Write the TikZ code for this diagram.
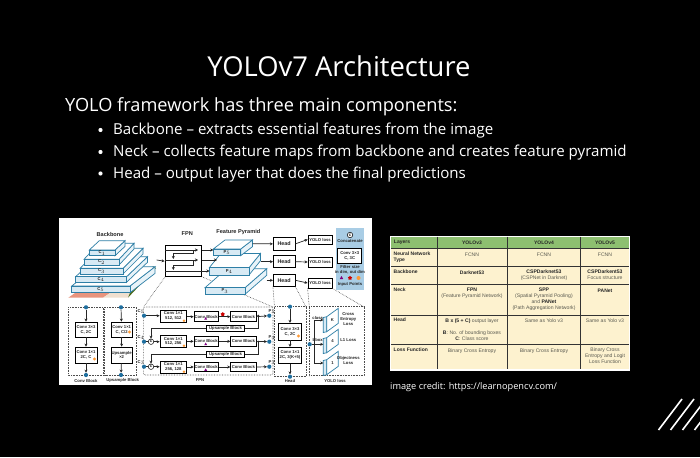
\documentclass[tikz,border=0pt]{standalone}
\usepackage{fontspec}
\setmainfont{Open Sans}
\newfontfamily\lib{Liberation Sans}
\usetikzlibrary{arrows.meta,shapes.geometric,calc}
\definecolor{tealb}{HTML}{2E7FA6}
\definecolor{dotb}{HTML}{1F6F9F}
\definecolor{slabf}{HTML}{D8EAF4}
\definecolor{slabs}{HTML}{E8F3F9}
\definecolor{leg}{HTML}{A9CDE5}
\definecolor{hdr}{HTML}{8DBF70}
\definecolor{crm}{HTML}{FDF2CF}
\definecolor{gtx}{HTML}{5A5A50}
\tikzset{
 tiny/.style={font=\lib\bfseries\fontsize{4.2}{4.8}\selectfont,align=center,inner sep=0pt,text=black!85},
 ttl/.style={font=\lib\bfseries\fontsize{5.6}{6.5}\selectfont,align=center,inner sep=0pt,text=black!85},
 blk/.style={draw=black,line width=.8pt,fill=white,tiny,inner sep=0pt},
 pan/.style={draw=black!70,densely dotted,line width=.6pt},
 arr/.style={-{Stealth[length=3pt,width=3pt]},line width=.7pt,black!85},
 lin/.style={line width=.7pt,black!85},
 dot/.style={circle,fill=dotb,minimum size=4.2pt,inner sep=0pt},
 cc/.style={circle,draw=black,fill=white,line width=.5pt,minimum size=5.5pt,inner sep=0pt,font=\lib\bfseries\fontsize{3.4}{4}\selectfont},
 main/.style={anchor=base west,inner sep=0pt,text=white},
 tb/.style={font=\lib\fontsize{5.1}{6}\selectfont,align=center,inner sep=0pt,text=gtx},
 tbb/.style={font=\lib\bfseries\fontsize{5}{6}\selectfont,align=left,inner sep=0pt,text=black!85},
 tri/.style={regular polygon,regular polygon sides=3,inner sep=0pt,minimum size=4pt},
}
% name x1 y1 x2 y2 text
\newcommand\bx[6]{\pgfmathsetmacro\ww{#4-#2}\pgfmathsetmacro\hh{#5-#3}%
 \node[blk,minimum width=\ww pt,minimum height=\hh pt] (#1) at ({(#2+#4)/2},{(#3+#5)/2}) {#6};}
% name x1 y1 x2 y2 dx dy text
\newcommand\slab[8]{%
 \fill[slabs,draw=tealb,line width=.7pt] (#4,#3)--(#4+#6,#3-#7)--(#4+#6,#5-#7)--(#4,#5)--cycle;
 \fill[white,draw=tealb,line width=.7pt] (#2,#3)--(#2+#6,#3-#7)--(#4+#6,#3-#7)--(#4,#3)--cycle;
 \pgfmathsetmacro\ww{#4-#2}\pgfmathsetmacro\hh{#5-#3}%
 \node[draw=tealb,line width=.7pt,fill=slabf,tiny,minimum width=\ww pt,minimum height=\hh pt] (#1) at ({(#2+#4)/2},{(#3+#5)/2}) {#8};}
% skewed thin box: name yoffset text
\newcommand\skw[3]{%
 \fill[slabf,draw=tealb,line width=.7pt] (323.3,317.5+#2)--(326.7,316.7+#2)--(326.7,331.7+#2)--(323.3,332.5+#2)--cycle;
 \fill[white,draw=tealb,line width=.7pt] (326.7,316.7+#2)--(338.3,308.3+#2)--(338.3,323.3+#2)--(326.7,331.7+#2)--cycle;
 \node[tiny] (#1) at (332.5,320.3+#2) {#3};
 \coordinate (#1w) at (323.3,320+#2);}
\begin{document}
\begin{tikzpicture}[x=1pt,y=-1pt]
\useasboundingbox (0,0) rectangle (700,457);
\fill[black] (0,0) rectangle (700,457);
\node[inner sep=0pt,text=white,font=\fontsize{27.4}{32}\selectfont] (title) at (339,66.5) {YOLOv7 Architecture};
\node[main,font=\fontsize{18.2}{22}\selectfont] (intro) at (65,111.5) {YOLO framework has three main components:};
\foreach \yy/\nm/\tx in {135/ba/Backbone – extracts essential features from the image,157/ne/Neck – collects feature maps from backbone and creates feature pyramid,178.5/he/Head – output layer that does the final predictions}{
 \fill[white] (100.5,\yy-5) circle (2.1pt);
 \node[main,font=\fontsize{15.1}{18}\selectfont] (\nm) at (113,\yy) {\tx};
}
% ---------- left figure
\fill[white] (59,218) rectangle (372,385);
\node[ttl] (tBack) at (110,234) {Backbone};
\node[ttl] (tFpn) at (187.3,234) {FPN};
\node[ttl] (tFP) at (238.3,232.5) {Feature Pyramid};
% ground image
\fill[red!40!brown!60!white] (68.3,297.7) -- (103,297.7) -- (110,293) -- (75,293) -- cycle;
\fill[brown!25!white] (103,297.7) -- (128,297.7) -- (131,293) -- (110,293) -- cycle;
\fill[green!35!black!60!brown] (128,297.7) -- (156,268) -- (153,266) -- (130,293) -- cycle;
% pyramid
\slab{c5}{71.7}{286}{130}{292.7}{25}{19.3}{C$_5$}
\slab{c4}{75.7}{276.7}{126.5}{282.3}{21}{20}{C$_4$}
\slab{c3}{80}{268.3}{123}{274}{20}{20}{C$_3$}
\slab{c2}{84}{259.3}{119}{265}{15}{16}{C$_2$}
\slab{c1}{89.3}{250}{115}{255.7}{10}{9.3}{C$_1$}
% dashed guides behind the pyramid
\coordinate (d1) at (143.5,307);
\coordinate (d2) at (273,307);
\coordinate (d3) at (306,307);
\coordinate (d4) at (309.3,307);
\coordinate (d5) at (364,307);
\draw[pan] (165,277)--(d1);
\draw[pan] (201.7,276.7)--(d2);
% FPN box
\node[draw=black,line width=.8pt,minimum width=36.7pt,minimum height=31pt,inner sep=0pt] (fpn) at (183.3,261.2) {};
\coordinate (fa) at (165,250); \coordinate (fb) at (198,250);
\coordinate (fc) at (165,260); \coordinate (fd) at (198,260);
\coordinate (fe) at (165,271); \coordinate (ff) at (201.7,271);
\draw[arr] (fa)--(fb); \draw[arr] (fc)--(fd); \draw[lin] (fe)--(ff);
\coordinate (g1) at (193.3,250); \coordinate (g2) at (173.3,259);
\coordinate (g3) at (193.3,260); \coordinate (g4) at (173.3,270);
\draw[arr] (g1)--(193.3,253.3)--(173.3,253.3)--(g2);
\draw[arr] (g3)--(193.3,265)--(173.3,265)--(g4);
\coordinate (pe) at (156.7,260);
\draw[arr] (pe)--(fpn.west);
% feature pyramid
\slab{p5}{205}{287.7}{245}{294.3}{21.7}{19}{P$_3$}
\coordinate (t3) at (209.5,271);
\slab{p4}{209.3}{267.7}{249}{275}{11.5}{14.3}{P$_4$}
\coordinate (t2) at (217,260);
\slab{p3}{213.3}{249}{240.7}{255.7}{11.7}{9}{P$_5$}
\coordinate (t1) at (213.3,250);
\draw[arr] (201.7,250)--(t1);
\draw[arr] (201.7,260)--(t2);
\draw[arr] (ff)--(t3);
% heads
\bx{h1}{273.3}{237.7}{295}{250}{\fontsize{5.4}{6}\selectfont Head}
\bx{h2}{273.3}{255.7}{295}{267.7}{\fontsize{5.4}{6}\selectfont Head}
\bx{h3}{273.3}{274.3}{295}{286.3}{\fontsize{5.4}{6}\selectfont Head}
\bx{y1}{308}{235}{332}{244}{YOLO loss}
\bx{y2}{308}{257}{332}{267}{YOLO loss}
\bx{y3}{308}{278}{332}{288}{YOLO loss}
\coordinate (o1) at (252.7,243.8);
\coordinate (o2) at (260.7,261.7);
\coordinate (o3) at (266.7,280.3);
\draw[arr] (o1)--(h1.west);
\draw[arr] (o2)--(h2.west);
\draw[arr] (o3)--(h3.west);
\draw[arr] (h1.east)--(y1.west);
\draw[arr] (h2.east)--(y2.west);
\draw[arr] (h3.east)--(y3.west);
% legend
\fill[leg] (336,228.3) rectangle (364,290);
\node[cc] (lc) at (350,235) {C};
\node[tiny] (lct) at (350,241.5) {Concatenate};
\bx{lb}{337.7}{248.3}{361.7}{263.3}{Conv 3×3\\C, 3C}
\node[tiny] (lft) at (350,270) {Filter size\\in dim, out dim};
\node[tri,fill=violet] (l1) at (341.5,278) {};
\node[star,star points=5,fill=red!80!black,inner sep=0pt,minimum size=4.5pt] (l2) at (350,278) {};
\node[circle,fill=orange!80,inner sep=0pt,minimum size=4pt] (l3) at (358.5,278) {};
\node[tiny] (lip) at (350,284) {Input Points};
% dashed guides
\draw[pan] (h3.south west)--(274.5,307);
\draw[pan] (h3.south east)--(d3);
\draw[pan] (y3.south west)--(d4);
\draw[pan] (y3.south east)--(d5);
% Conv block panel
\draw[pan] (68.3,307.3) rectangle (103.3,375);
\node[dot] (a0) at (86,307.3) {};
\node[dot] (a3) at (86,375) {};
\bx{a1}{75}{322}{97}{337}{Conv 3×3\\C, 2C}
\bx{a2}{75}{347}{97}{363}{Conv 1×1\\2C, C}
\draw[arr] (a0)--(a1); \draw[arr] (a1)--(a2); \draw[arr] (a2)--(a3);
\node[tiny] (at) at (86,380.5) {Conv Block};
% Upsample block panel
\draw[pan] (104.5,307.3) rectangle (136.7,375);
\node[dot] (b0) at (121,307.3) {};
\node[dot] (b3) at (121,375) {};
\bx{b1}{111}{322}{132.3}{337}{Conv 1×1\\C, C/2}
\bx{b2}{111}{347}{132.3}{363}{Upsample\\×2}
\draw[arr] (b0)--(b1); \draw[arr] (b1)--(b2); \draw[arr] (b2)--(b3);
\node[tiny] (bt) at (122.7,380.5) {Upsample Block};
\fill[orange!80] (129.5,332) circle (1.6pt);
\fill[orange!80] (94.5,359) circle (1.6pt);
% FPN panel
\draw[pan,rounded corners=2pt] (143.3,307) rectangle (273,375);
\node[dot] (c5d) at (144,315.7) {};
\node[dot] (c4d) at (144,341.7) {};
\node[dot] (c3d) at (144,366.7) {};
\node[tiny,anchor=south] (c5t) at (141,314) {C$_5$};
\node[tiny,anchor=south] (c4t) at (141,340) {C$_4$};
\node[tiny,anchor=south] (c3t) at (141,365) {C$_3$};
\node[cc] (k2) at (151,341.7) {C};
\node[cc] (k3) at (151,366.7) {C};
\bx{f1}{160}{310}{186.7}{322.3}{Conv 1×1\\512, 512}
\bx{f2}{160}{335}{186.7}{347.7}{Conv 1×1\\512, 256}
\bx{f3}{160}{361}{186.7}{373.3}{Conv 1×1\\256, 128}
\bx{m1}{194}{311.7}{218.3}{321.7}{Conv Block}
\bx{m2}{194}{336.7}{218.3}{346}{Conv Block}
\bx{m3}{194}{362.3}{218.3}{371.7}{Conv Block}
\bx{n1}{230.7}{311.7}{256}{321.7}{Conv Block}
\bx{n2}{230.7}{336.7}{256}{346}{Conv Block}
\bx{n3}{230.7}{362.3}{256}{371.7}{Conv Block}
\bx{u1}{206.7}{325}{244.3}{331.7}{Upsample Block}
\bx{u2}{206.7}{351}{244.3}{357.7}{Upsample Block}
\node[dot] (r1) at (269.3,315.7) {};
\node[dot] (r2) at (269.3,341.7) {};
\node[dot] (r3) at (269.3,366.7) {};
\draw[arr] (c5d)--(f1.west|-c5d); \draw[lin] (c4d)--(k2); \draw[lin] (c3d)--(k3);
\draw[arr] (k2)--(f2.west|-k2); \draw[arr] (k3)--(f3.west|-k3);
\draw[arr] (f1.east|-m1)--(m1); \draw[arr] (f2.east|-m2)--(m2); \draw[arr] (f3.east|-m3)--(m3);
\draw[arr] (m1)--(n1); \draw[arr] (m2)--(n2); \draw[arr] (m3)--(n3);
\draw[arr] (n1.east)--(r1); \draw[arr] (n2.east)--(r2); \draw[arr] (n3.east)--(r3);
\draw[arr] (u1.west)-|(k2.north);
\draw[arr] (u2.west)-|(k3.north);
\coordinate (j1) at (258.3,315.7); \coordinate (j2) at (258.3,341.7);
\draw[lin] (j1)|-(u1.east);
\draw[lin] (j2)|-(u2.east);
\fill[black!85] (j1) circle (1.1pt) (j2) circle (1.1pt);
\node[star,star points=5,fill=red!80!black,inner sep=0pt,minimum size=4.5pt] (st) at (222.7,314.3) {};
\foreach \yy in {318.8,344.3,370}{\node[tri,fill=violet,minimum size=3.4pt] at (205.7,\yy) {};}
\foreach \yy in {320.7,345.7,371.7}{\fill[orange!80] (184,\yy) circle (1.4pt);}
\node[tiny,anchor=south] (p5t) at (272,314) {P$_5$};
\node[tiny,anchor=south] (p4t) at (272,340) {P$_4$};
\node[tiny,anchor=south] (p3t) at (272,365) {P$_3$};
\node[tiny] (ft) at (200,380.5) {FPN};
% Head panel
\draw[pan] (274.5,306.7) rectangle (306,376.7);
\node[dot] (e0) at (290,306.7) {};
\node[dot] (e3) at (290,376.7) {};
\bx{e1}{278.3}{323.3}{301.7}{340}{Conv 3×3\\C, 2C}
\bx{e2}{278.3}{347.3}{301.7}{363.3}{Conv 1×1\\2C, 3(K+5)}
\draw[arr] (e0)--(e1); \draw[arr] (e1)--(e2); \draw[arr] (e2)--(e3);
\fill[orange!80] (298.5,336) circle (1.6pt);
\node[tiny] (et) at (290,381) {Head};
% YOLO loss panel
\draw[pan] (309.3,306.7) rectangle (364,375.5);
\node[dot] (s0) at (309.7,344.3) {};
\skw{l1}{0}{K}
\skw{l2}{21}{4}
\skw{l3}{43}{1}
\coordinate (s1) at (314.5,344.3);
\draw[arr] (s1)|-(l1w); \draw[arr] (s0)--(s0-|l2w); \draw[arr] (s1)|-(l3w);
\node[tiny] (cls) at (317.7,317.5) {class};
\node[tiny] (bbx) at (317.7,339.5) {bbox};
\node[tiny] (ce) at (348.3,319) {Cross\\Entropy\\Loss};
\node[tiny] (l1t) at (348.3,339.7) {L1 Loss};
\node[tiny] (ol) at (348.3,360.7) {Objectness\\Loss};
\node[tiny] (yt) at (335,380.5) {YOLO loss};
% ---------- table
\fill[white] (389.7,236) rectangle (629.5,370.5);
\fill[hdr] (391,236.5) rectangle (629,248.5);
\fill[crm] (391,249) rectangle (629,368.5);
\foreach \xx in {437.3,507.3,580.7}{\draw[black!80,line width=.5pt] (\xx,236.5)--(\xx,368.5);}
\foreach \yy in {248.5,266.7,284.3,315,344.7}{\draw[black!80,line width=.5pt] (391,\yy)--(629,\yy);}
\node[tbb] (h0) at (402,242.7) {Layers};
\node[tbb] (h2t) at (472,242.7) {YOLOv3};
\node[tbb] (h3t) at (544,242.7) {YOLOv4};
\node[tbb] (h4t) at (605,242.7) {YOLOv5};
\node[tbb,anchor=north west] (r1t) at (393.5,251.5) {Neural Network\\Type};
\node[tb] (v1a) at (472,254.7) {FCNN};
\node[tb] (v1b) at (544,254.7) {FCNN};
\node[tb] (v1c) at (605,254.7) {FCNN};
\node[tbb,anchor=north west] (r2t) at (393.5,270) {Backbone};
\node[tbb,align=center] (v2a) at (472,272.7) {Darknet53};
\node[tb,anchor=north] (v2b) at (544,269.8) {\textbf{\color{black!85}CSPDarknet53}\\(CSPNet in Darknet)};
\node[tb,anchor=north] (v2c) at (605,269.8) {\textbf{\color{black!85}CSPDarkent53}\\Focus structure};
\node[tbb,anchor=north west] (r3t) at (393.5,288) {Neck};
\node[tb,anchor=north] (v3a) at (472,287.5) {\textbf{\color{black!85}FPN}\\(Feature Pyramid Network)};
\node[tb,anchor=north] (v3b) at (544,287.5) {\textbf{\color{black!85}SPP}\\(Spatial Pyramid Pooling)\\and \textbf{\color{black!85}PANet}\\(Path Aggregation Network)};
\node[tbb,align=center] (v3c) at (605,290.7) {PANet};
\node[tbb,anchor=north west] (r4t) at (393.5,318) {Head};
\node[tb] (v4a) at (472,321) {\textbf{\color{black!85}B x (5 + C)} output layer};
\node[tb] (v4d) at (472,336) {\textbf{\color{black!85}B}: No. of bounding boxes\\\textbf{\color{black!85}C}: Class score};
\node[tb] (v4b) at (544,321) {Same as Yolo v3};
\node[tb] (v4c) at (605,321) {Same as Yolo v3};
\node[tbb,anchor=north west] (r5t) at (393.5,348) {Loss Function};
\node[tb] (v5a) at (472,351) {Binary Cross Entropy};
\node[tb] (v5b) at (544,351) {Binary Cross Entropy};
\node[tb,anchor=north] (v5c) at (605,348) {Binary Cross\\Entropy and Logit\\Loss Function};
\node[main,font=\fontsize{9.2}{12}\selectfont] (cred) at (390,389.5) {image credit: https://learnopencv.com/};
% slashes
\begin{scope}
\clip (0,0) rectangle (700,457);
\foreach \xx in {0,12,24,36}{\draw[white,line width=1.6pt] (658.5+\xx,430)--(682+\xx,399);}
\end{scope}
\end{tikzpicture}
\end{document}
